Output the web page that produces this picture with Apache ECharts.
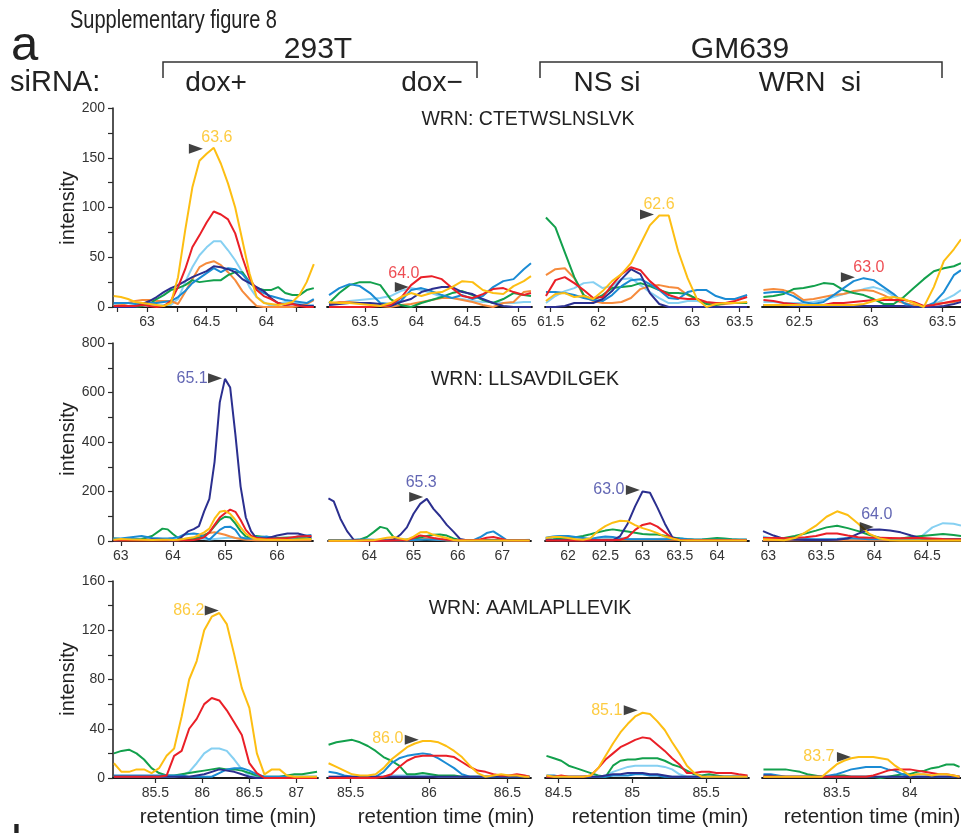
<!DOCTYPE html>
<html><head><meta charset="utf-8">
<script src="https://cdn.jsdelivr.net/npm/echarts@6/dist/echarts.min.js"></script>
<style>html,body{margin:0;padding:0;background:#fff}#c{width:961px;height:833px}</style>
</head><body><div id="c"></div>
<script>
// ---------------- DATA ----------------
const ROW_TITLES = ['WRN: CTETWSLNSLVK', 'WRN: LLSAVDILGEK', 'WRN: AAMLAPLLEVIK'];
const Y_MAX = [200, 800, 160];
const Y_STEP = [50, 200, 40];
const GROUPS = ['293T', 'GM639'];
const CONDITIONS = ['dox+', 'dox\u2212', 'NS si', 'WRN  si'];
const X_NAME = 'retention time (min)';
const Y_NAME = 'intensity';

// Row 1 : WRN: CTETWSLNSLVK
const P11 = {
  t: [62.72,62.78,62.84,62.90,62.96,63.02,63.08,63.14,63.20,63.26,63.32,63.38,63.44,63.50,63.56,63.62,63.68,63.74,63.80,63.86,63.92,63.98,64.04,64.10,64.16,64.22,64.28,64.34,64.40],
  lightblue: [2,2,1,1,1,1,1,2,2,8,25,40,52,60,66,66,57,47,35,20,10,5,1,3,5,4,3,2,2],
  orange: [1,2,4,6,7,7,6,6,6,3,15,28,40,44,46,42,35,27,16,8,1,0,0,0,0,0,1,3,7],
  green: [0,0,0,0,1,3,8,12,17,19,22,27,25,26,27,27,32,35,35,25,19,17,17,20,14,12,12,17,19],
  blue: [4,4,4,3,3,4,4,5,6,10,16,24,29,34,39,35,39,38,33,25,18,14,11,9,7,6,5,4,8],
  navy: [0,0,0,0,3,6,10,15,19,22,26,30,33,36,41,40,38,35,28,24,20,16,9,4,2,3,2,1,1],
  red: [1,1,1,1,2,1,0,1,6,20,38,60,72,85,96,93,88,74,50,29,17,11,8,4,2,3,1,0,0],
  yellow: [11,10,8,5,4,3,2,1,4,30,77,120,147,154,160,144,124,100,67,34,10,4,3,2,3,5,12,25,43]
};
const P11_ticks = [62.75,63,63.25,63.5,63.75,64,64.25];
const P11_labelValues = [63,63.5,64];
const P11_labels = ['63','64.5','64'];

const P12 = {
  t: [63.15,63.25,63.35,63.45,63.55,63.65,63.75,63.85,63.95,64.05,64.15,64.25,64.35,64.45,64.55,64.65,64.75,64.85,64.95,65.05,65.12],
  lightblue: [2,4,6,7,8,9,11,16,19,17,14,10,9,8,6,5,5,4,4,5,5],
  orange: [3,5,5,4,3,1,0,2,3,5,7,9,9,7,5,2,0,4,5,15,16],
  green: [4,14,22,25,25,22,8,2,0,4,7,10,14,16,12,7,4,8,14,12,11],
  blue: [12,19,23,21,14,4,3,6,17,19,16,12,9,12,8,11,20,26,28,38,44],
  navy: [2,3,4,4,4,3,1,5,8,15,18,20,20,15,13,8,4,1,0,0,0],
  red: [0,0,0,0,0,1,2,9,22,30,31,28,19,11,9,13,18,19,15,12,14],
  yellow: [5,4,4,3,2,1,4,10,14,11,14,15,20,26,25,17,14,13,21,26,31]
};
const P12_ticks = [63.5,64,64.5,65];
const P12_labelValues = [63.5,64,64.5,65];
const P12_labels = ['63.5','64','64.5','65'];

const P13 = {
  t: [61.45,61.55,61.65,61.75,61.85,61.95,62.05,62.15,62.25,62.35,62.45,62.55,62.65,62.75,62.85,62.95,63.05,63.15,63.25,63.35,63.45,63.58],
  lightblue: [4,11,16,19,24,25,19,21,28,29,22,15,9,4,4,6,6,4,4,4,4,4],
  orange: [32,38,39,29,11,6,4,4,5,9,18,21,22,20,19,12,8,4,2,3,4,4],
  green: [90,80,55,30,12,7,12,19,20,21,24,21,17,14,14,13,8,3,2,4,4,4],
  blue: [15,15,14,12,9,7,6,12,21,27,28,23,17,9,8,15,17,17,11,8,8,12],
  navy: [0,0,1,4,4,4,8,16,28,38,33,14,3,0,0,0,0,0,0,0,0,0],
  red: [11,27,30,24,17,9,10,22,33,40,37,26,18,12,9,8,8,5,4,4,6,10],
  yellow: [6,13,14,10,11,8,16,26,33,44,63,82,92,92,56,29,8,0,3,4,4,5]
};
const P13_ticks = [61.5,62,62.5,63,63.5];
const P13_labelValues = [61.5,62,62.5,63,63.5];
const P13_labels = ['61.5','62','62.5','63','63.5'];

const P14 = {
  t: [62.25,62.32,62.39,62.46,62.53,62.60,62.67,62.74,62.81,62.88,62.95,63.02,63.09,63.16,63.23,63.30,63.37,63.44,63.51,63.58,63.63],
  lightblue: [5,5,4,4,4,5,7,10,13,15,18,20,17,11,4,0,0,3,7,12,17],
  orange: [17,18,17,14,7,8,10,12,13,16,17,16,12,7,4,2,0,3,4,5,7],
  green: [10,11,13,18,19,21,24,23,17,14,12,8,3,3,10,19,28,36,39,41,44],
  blue: [14,15,15,11,5,3,5,12,19,26,29,27,20,13,4,0,0,4,15,32,37],
  navy: [2,2,2,1,1,1,1,1,1,1,1,1,1,1,1,0,0,0,1,3,5],
  red: [7,6,4,3,2,2,2,4,4,5,6,7,7,7,7,5,1,2,4,6,7],
  yellow: [2,2,2,2,2,2,2,2,2,2,3,6,9,10,8,4,0,20,46,58,68]
};
const P14_ticks = [62.5,63,63.5];
const P14_labelValues = [62.5,63,63.5];
const P14_labels = ['62.5','63','63.5'];

// Row 2 : WRN: LLSAVDILGEK
const P21 = {
  t: [62.86,63.0,63.2,63.4,63.6,63.8,63.9,64.0,64.1,64.2,64.3,64.4,64.5,64.6,64.7,64.8,64.9,65.0,65.1,65.2,65.3,65.4,65.5,65.6,65.8,66.0,66.2,66.4,66.66],
  lightblue: [8,8,6,5,5,5,5,5,6,8,10,12,10,8,6,8,10,12,14,12,10,8,6,5,5,6,8,10,12],
  orange: [3,3,3,3,3,3,3,3,3,5,8,12,18,25,32,35,30,25,18,12,8,5,4,3,3,3,3,3,3],
  green: [10,8,6,8,20,50,47,28,12,3,5,8,12,22,35,60,85,98,95,70,40,18,12,20,15,12,14,12,10],
  blue: [10,10,15,20,12,10,10,12,15,25,28,30,27,18,5,25,45,57,58,45,15,10,10,14,18,8,6,18,24],
  red: [3,3,3,3,3,3,3,3,3,3,3,4,8,15,35,65,95,112,127,118,85,45,22,12,8,10,12,18,20],
  yellow: [5,8,6,5,4,5,5,4,5,8,12,15,25,35,50,90,118,122,110,85,55,30,15,8,5,5,4,6,8],
  navy: [2,3,5,4,6,5,3,2,4,22,40,48,60,120,170,320,560,655,620,430,220,95,40,12,10,22,30,30,15]
};
const P21_ticks = [63,64,65,66];
const P21_labelValues = [63,64,65,66];
const P21_labels = ['63','64','65','66'];

const P22 = {
  t: [63.08,63.2,63.35,63.5,63.65,63.8,63.95,64.1,64.25,64.4,64.55,64.7,64.85,65.0,65.15,65.3,65.45,65.6,65.75,65.9,66.05,66.2,66.35,66.5,66.65,66.8,66.95,67.1,67.25,67.4,67.62],
  lightblue: [2,2,2,2,2,2,3,3,3,3,3,3,3,5,8,8,6,4,3,3,3,3,3,3,3,3,3,3,3,3,5],
  orange: [2,2,2,2,2,2,2,2,3,5,8,5,3,3,6,10,10,6,3,2,2,2,2,2,2,2,2,2,2,2,2],
  green: [3,3,3,3,3,6,16,36,57,50,16,3,6,9,14,20,25,26,22,10,4,3,3,3,3,3,3,3,3,3,3],
  blue: [3,3,3,4,5,6,6,5,4,3,3,3,3,4,5,6,6,5,4,3,3,3,3,15,32,39,22,4,3,3,3],
  red: [1,1,1,1,1,1,1,1,1,1,2,3,3,12,22,18,12,8,5,3,3,3,3,6,13,16,10,3,2,2,2],
  yellow: [1,1,1,1,1,2,3,3,8,13,16,10,5,18,35,36,25,18,12,4,2,2,2,2,2,2,2,2,2,2,2],
  navy: [172,160,90,40,5,3,3,2,2,1,5,25,55,110,150,170,130,100,65,38,8,3,2,2,2,2,2,2,2,2,2]
};
const P22_ticks = [64,65,66,67];
const P22_labelValues = [64,65,66,67];
const P22_labels = ['64','65','66','67'];

const P23 = {
  t: [61.7,61.8,61.9,62.0,62.1,62.2,62.3,62.4,62.5,62.6,62.7,62.8,62.9,63.0,63.1,63.2,63.3,63.4,63.5,63.6,63.7,63.8,63.9,64.0,64.1,64.2,64.3,64.4],
  lightblue: [10,16,20,18,14,10,8,10,12,12,10,8,8,8,8,8,10,12,12,8,6,6,6,6,6,6,6,6],
  orange: [4,5,5,5,5,4,4,4,5,5,5,5,5,5,5,5,5,5,5,5,4,4,4,4,4,4,4,4],
  green: [6,7,9,12,15,20,27,35,42,47,42,38,33,28,26,26,21,14,10,7,5,6,9,12,10,7,5,5],
  blue: [13,18,20,20,16,12,8,14,18,16,10,7,7,7,7,7,7,9,9,7,5,5,5,5,5,5,5,5],
  red: [2,2,2,2,2,2,3,3,3,3,5,15,45,65,72,58,35,10,4,3,3,3,3,3,3,3,3,3],
  yellow: [12,16,16,12,7,5,11,40,60,74,82,80,64,52,43,32,18,10,3,2,2,2,2,2,2,2,2,2],
  navy: [5,4,3,3,3,3,3,3,3,3,20,70,140,200,195,135,70,15,3,2,2,2,2,2,2,2,2,2]
};
const P23_ticks = [62,62.5,63,63.5,64];
const P23_labelValues = [62,62.5,63,63.5,64];
const P23_labels = ['62','62.5','63','63.5','64'];

const P24 = {
  t: [62.95,63.05,63.15,63.25,63.35,63.45,63.55,63.65,63.75,63.85,63.95,64.05,64.15,64.25,64.35,64.45,64.55,64.65,64.75,64.82],
  lightblue: [18,10,6,5,5,5,5,5,5,5,5,5,5,5,5,20,55,72,70,62],
  orange: [3,3,3,3,3,3,3,3,3,3,3,3,3,3,3,3,3,3,3,3],
  green: [11,11,12,20,30,42,55,62,52,40,25,13,8,10,16,20,24,28,24,20],
  blue: [13,10,8,8,8,7,7,8,12,10,7,7,8,8,8,8,8,8,8,8],
  red: [12,12,11,13,15,20,30,30,22,15,13,13,12,11,12,12,10,8,7,7],
  yellow: [7,5,3,12,35,62,98,120,105,70,30,10,3,2,2,2,2,2,2,2],
  navy: [40,22,8,5,4,4,4,5,10,30,45,46,42,35,22,10,6,5,5,5]
};
const P24_ticks = [63,63.5,64,64.5];
const P24_labelValues = [63,63.5,64,64.5];
const P24_labels = ['63','63.5','64','64.5'];

// Row 3 : WRN: AAMLAPLLEVIK
const P31 = {
  t: [85.06,85.14,85.22,85.30,85.38,85.46,85.54,85.62,85.70,85.78,85.86,85.94,86.02,86.10,86.18,86.26,86.34,86.42,86.50,86.58,86.66,86.74,86.82,86.90,86.98,87.06,87.14,87.22],
  lightblue: [1,1,1,1,1,1,1,1,1,2,5,12,20,24,24,22,15,7,2,1,1,1,1,1,1,1,1,1],
  green: [20,22,23,20,15,8,4,2,2,3,4,5,6,7,8,7,7,6,4,2,1,1,1,2,3,3,4,5],
  blue: [2,2,2,2,2,2,2,2,2,2,1,1,1,1,4,7,8,8,6,3,1,1,1,1,1,1,1,1],
  navy: [1,1,1,1,1,1,1,1,1,1,1,2,3,5,7,6,5,3,1,0,0,0,0,0,0,0,0,0],
  red: [1,1,1,1,1,1,1,2,18,22,40,48,60,65,63,55,45,35,12,4,0,0,0,0,0,0,0,0],
  yellow: [12,5,5,7,7,4,8,18,24,50,80,95,120,131,134,125,100,73,57,20,3,7,7,2,1,1,1,1]
};
const P31_ticks = [85.5,86,86.5,87];
const P31_labelValues = [85.5,86,86.5,87];
const P31_labels = ['85.5','86','86.5','87'];

const P32 = {
  t: [85.36,85.41,85.46,85.51,85.56,85.61,85.66,85.71,85.76,85.81,85.86,85.91,85.96,86.01,86.06,86.11,86.16,86.21,86.26,86.31,86.36,86.41,86.46,86.51,86.56,86.61,86.64],
  lightblue: [1,1,1,1,1,1,1,1,2,2,2,2,2,2,1,1,1,1,1,1,1,1,1,1,1,1,1],
  green: [27,29,30,31,29,26,22,17,14,10,3,3,4,3,2,2,2,1,1,1,1,1,1,1,1,1,1],
  blue: [5,4,2,1,1,1,1,5,12,16,18,19,20,19,16,12,8,3,1,1,1,1,1,1,1,1,1],
  red: [0,0,0,0,0,0,0,1,3,9,14,17,18,18,18,18,17,13,9,6,5,3,2,2,3,2,1],
  yellow: [12,9,6,3,2,2,3,8,15,20,25,28,30,30,29,26,22,17,10,4,1,2,3,2,2,1,1],
  navy: [1,1,1,1,1,1,1,1,1,1,1,1,1,1,1,1,1,1,1,1,1,1,1,1,1,1,1]
};
const P32_ticks = [85.5,86,86.5];
const P32_labelValues = [85.5,86,86.5];
const P32_labels = ['85.5','86','86.5'];

const P33 = {
  t: [84.42,84.47,84.52,84.57,84.62,84.67,84.72,84.77,84.82,84.87,84.92,84.97,85.02,85.07,85.12,85.17,85.22,85.27,85.32,85.37,85.42,85.47,85.52,85.57,85.62,85.67,85.72,85.78],
  lightblue: [1,1,1,1,1,1,1,1,2,5,7,9,10,10,10,10,9,7,3,1,1,1,1,1,1,1,1,1],
  green: [18,16,14,10,8,6,4,2,1,10,14,15,15,16,16,16,14,11,9,6,3,2,3,2,1,1,1,1],
  blue: [2,2,1,1,1,1,1,1,1,2,2,2,3,3,2,2,1,1,1,1,1,1,1,1,1,1,1,1],
  navy: [1,1,1,1,1,1,1,1,2,3,3,4,4,4,3,3,2,1,1,1,1,1,1,1,1,1,1,1],
  red: [1,1,2,1,1,1,2,8,15,20,25,28,31,33,32,27,22,16,11,4,4,5,5,4,4,4,3,2],
  yellow: [2,1,1,1,1,1,2,8,18,28,37,44,50,53,52,46,39,29,20,10,4,1,1,1,1,1,1,1]
};
const P33_ticks = [84.5,85,85.5];
const P33_labelValues = [84.5,85,85.5];
const P33_labels = ['84.5','85','85.5'];

const P34 = {
  t: [83.0,83.05,83.1,83.15,83.2,83.25,83.3,83.35,83.4,83.45,83.5,83.55,83.6,83.65,83.7,83.75,83.8,83.85,83.9,83.95,84.0,84.05,84.1,84.15,84.2,84.25,84.3,84.34],
  lightblue: [1,1,1,1,1,1,1,1,1,1,1,1,1,1,1,1,1,1,1,1,2,3,3,2,1,1,1,1],
  navy: [2,2,1,1,1,1,1,1,1,1,1,1,1,1,1,1,1,1,1,1,1,1,1,1,1,1,1,1],
  green: [7,7,7,7,6,5,3,2,1,1,2,2,1,1,1,1,0,1,2,3,3,5,6,8,9,11,11,9],
  blue: [3,3,2,1,1,1,1,1,1,2,3,5,7,8,9,9,9,7,6,3,1,1,1,1,1,1,1,1],
  red: [1,1,1,1,1,1,1,1,1,1,1,1,1,1,1,2,4,6,7,7,7,6,5,4,3,3,2,1],
  yellow: [1,1,1,1,1,1,1,1,1,6,11,14,16,17,17,17,16,15,10,6,2,3,3,2,3,3,2,1]
};
const P34_ticks = [83.5,84];
const P34_labelValues = [83.5,84];
const P34_labels = ['83.5','84'];

// Peak markers: [panel, retention time, intensity, label, colour key]
const PEAKS = [
  ['P11', 63.41, 159, '63.6', 'yellow'],
  ['P12', 63.86, 20, '64.0', 'red'],
  ['P13', 62.52, 93, '62.6', 'yellow'],
  ['P14', 62.84, 30, '63.0', 'red'],
  ['P21', 64.81, 658, '65.1', 'navyText'],
  ['P22', 65.06, 178, '65.3', 'navyText'],
  ['P23', 62.87, 206, '63.0', 'navyText'],
  ['P24', 63.93, 57, '64.0', 'navyText'],
  ['P31', 86.10, 136, '86.2', 'yellow'],
  ['P32', 85.89, 31, '86.0', 'yellow'],
  ['P33', 84.99, 55, '85.1', 'yellow'],
  ['P34', 83.55, 17, '83.7', 'yellow']
];

// ---------------- STYLE / LAYOUT ----------------
const COLOR = {
  yellow: '#FDBE12', red: '#EA1F27', lightblue: '#86D0F2', orange: '#F68B3C',
  navy: '#2B2F8F', green: '#12A04C', blue: '#1A8BD4', navyText: '#3B40A0'
};
const DRAW_ORDER = ['lightblue', 'orange', 'green', 'blue', 'navy', 'red', 'yellow'];
const ROW_GEOM = [{top: 108, h: 199}, {top: 343, h: 198}, {top: 581, h: 197}];
const PANELS = [
  {id: 'P11', d: P11, tk: P11_ticks, lv: P11_labelValues, lb: P11_labels, row: 0, l: 113, r: 315, min: 62.714, max: 64.41, off: [21, -11]},
  {id: 'P12', d: P12, tk: P12_ticks, lv: P12_labelValues, lb: P12_labels, row: 0, l: 327, r: 532, min: 63.13, max: 65.13, off: [2, -14]},
  {id: 'P13', d: P13, tk: P13_ticks, lv: P13_labelValues, lb: P13_labels, row: 0, l: 545, r: 749, min: 61.44, max: 63.6, off: [12, -10]},
  {id: 'P14', d: P14, tk: P14_ticks, lv: P14_labelValues, lb: P14_labels, row: 0, l: 762, r: 961, min: 62.24, max: 63.63, off: [21, -10]},
  {id: 'P21', d: P21, tk: P21_ticks, lv: P21_labelValues, lb: P21_labels, row: 1, l: 113, r: 313, min: 62.85, max: 66.69, off: [-23, 0]},
  {id: 'P22', d: P22, tk: P22_ticks, lv: P22_labelValues, lb: P22_labels, row: 1, l: 328, r: 531, min: 63.07, max: 67.65, off: [5, -14]},
  {id: 'P23', d: P23, tk: P23_ticks, lv: P23_labelValues, lb: P23_labels, row: 1, l: 545, r: 749, min: 61.69, max: 64.43, off: [-24, 0]},
  {id: 'P24', d: P24, tk: P24_ticks, lv: P24_labelValues, lb: P24_labels, row: 1, l: 763, r: 961, min: 62.95, max: 64.82, off: [10, -12]},
  {id: 'P31', d: P31, tk: P31_ticks, lv: P31_labelValues, lb: P31_labels, row: 2, l: 113, r: 318, min: 85.05, max: 87.23, off: [-23, 0]},
  {id: 'P32', d: P32, tk: P32_ticks, lv: P32_labelValues, lb: P32_labels, row: 2, l: 327, r: 531, min: 85.35, max: 86.65, off: [-24, -1]},
  {id: 'P33', d: P33, tk: P33_ticks, lv: P33_labelValues, lb: P33_labels, row: 2, l: 545, r: 749, min: 84.41, max: 85.79, off: [-24, 0]},
  {id: 'P34', d: P34, tk: P34_ticks, lv: P34_labelValues, lb: P34_labels, row: 2, l: 762, r: 961, min: 82.99, max: 84.35, off: [-25, 0]}
];
const FONT = "'Liberation Sans', Arial, sans-serif";
const INK = '#2b2b2b';
const TRI = 'path://M0,0L12,5L0,10Z';

const grid = [], xAxis = [], yAxis = [], series = [];
PANELS.forEach((p, i) => {
  const g = ROW_GEOM[p.row];
  grid.push({left: p.l, top: g.top, width: p.r - p.l, height: g.h, containLabel: false});
  xAxis.push({
    type: 'value', gridIndex: i, min: p.min, max: p.max,
    axisLine: {show: true, onZero: false, lineStyle: {color: '#1a1a1a', width: 1.8}},
    axisTick: {show: true, customValues: p.tk, length: 5, lineStyle: {color: INK, width: 1.2}},
    axisLabel: {
      show: true, customValues: p.lv, margin: 8, color: '#333', fontSize: 14, fontFamily: FONT,
      formatter: v => { const k = p.lv.findIndex(x => Math.abs(x - v) < 1e-9); return k >= 0 ? p.lb[k] : ''; }
    },
    splitLine: {show: false}
  });
  const first = (i % 4 === 0);
  yAxis.push({
    type: 'value', gridIndex: i, min: 0, max: Y_MAX[p.row], interval: Y_STEP[p.row], show: first,
    axisLine: {show: true, lineStyle: {color: '#1a1a1a', width: 1.5}},
    axisTick: {show: true, length: 5, lineStyle: {color: INK, width: 1.2}},
    minorTick: {show: true, splitNumber: 2, length: 5, lineStyle: {color: INK, width: 1.2}},
    axisLabel: {show: true, margin: 8, color: '#333', fontSize: 14, fontFamily: FONT},
    splitLine: {show: false}, minorSplitLine: {show: false}
  });
  DRAW_ORDER.forEach(key => {
    const vals = p.d[key];
    if (!vals) return;
    series.push({
      type: 'line', xAxisIndex: i, yAxisIndex: i, showSymbol: false, symbol: 'none', silent: true,
      data: p.d.t.map((t, k) => [t, vals[k]]),
      lineStyle: {color: COLOR[key], width: 2}, itemStyle: {color: COLOR[key]}, clip: true, z: 2
    });
  });
  const pk = PEAKS.find(q => q[0] === p.id);
  if (pk) {
    series.push({
      type: 'scatter', xAxisIndex: i, yAxisIndex: i, silent: true, z: 10,
      data: [[pk[1], pk[2]]], symbol: TRI, symbolSize: [14, 10],
      itemStyle: {color: '#111'},
      label: {show: true, position: 'inside', offset: p.off, formatter: pk[3],
              color: COLOR[pk[4]], fontSize: 16, fontFamily: FONT}
    });
  }
});

const txt = (text, x, y, size, opt) => Object.assign({
  type: 'text', x: x, y: y, silent: true,
  style: Object.assign({text: text, font: size + 'px ' + FONT, fill: '#222', textAlign: 'left', textVerticalAlign: 'middle',
                        align: 'left', verticalAlign: 'middle'}, (opt && opt.style) || {})
}, (opt && opt.el) || {});
const center = {style: {textAlign: 'center', align: 'center'}};
const vert = {style: {textAlign: 'center', align: 'center'}, el: {rotation: Math.PI / 2}};

const graphic = [
  txt('a', 11, 46, 49),
  txt('Supplementary figure 8', 70, 21, 26, {el: {scaleX: 0.77}}),
  txt(GROUPS[0], 318, 50, 30, center),
  txt(GROUPS[1], 740, 50, 30, center),
  txt('siRNA:', 10, 83, 29),
  txt(CONDITIONS[0], 216, 83, 28, center),
  txt(CONDITIONS[1], 432, 83, 28, center),
  txt(CONDITIONS[2], 607, 83, 28, center),
  txt(CONDITIONS[3], 810, 83, 28, center),
  {type: 'polyline', silent: true, shape: {points: [[163, 78], [163, 62], [477, 62], [477, 78]]}, style: {stroke: '#333', lineWidth: 1.5, fill: null}},
  {type: 'polyline', silent: true, shape: {points: [[540, 78], [540, 62], [942, 62], [942, 78]]}, style: {stroke: '#333', lineWidth: 1.5, fill: null}},
  txt(ROW_TITLES[0], 528, 120, 19.5, center),
  txt(ROW_TITLES[1], 525, 380, 19.5, center),
  txt(ROW_TITLES[2], 530, 609, 19.5, center),
  txt(Y_NAME, 68, 208, 20, vert),
  txt(Y_NAME, 68, 439, 20, vert),
  txt(Y_NAME, 68, 679, 20, vert),
  txt(X_NAME, 228, 817, 20.5, center),
  txt(X_NAME, 446, 817, 20.5, center),
  txt(X_NAME, 660, 817, 20.5, center),
  txt(X_NAME, 872, 817, 20.5, center),
  txt('b', 11, 845, 49)
];

const chart = echarts.init(document.getElementById('c'), null, {renderer: 'canvas'});
chart.setOption({animation: false, backgroundColor: '#fff', grid, xAxis, yAxis, series, graphic});
</script></body></html>
